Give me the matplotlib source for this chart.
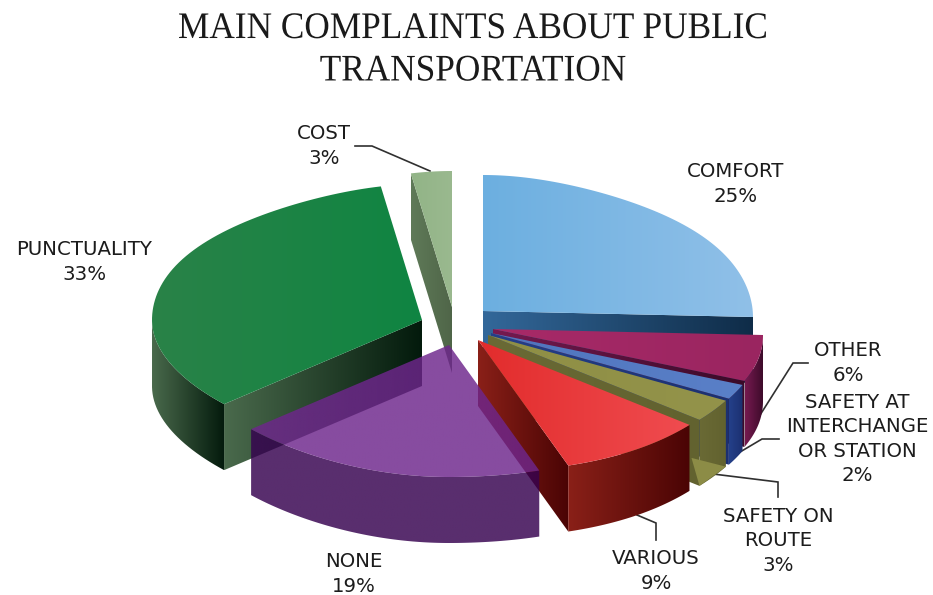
import numpy as np
import matplotlib
matplotlib.use("Agg")
import matplotlib.pyplot as plt
from matplotlib.patches import Polygon
from matplotlib.patheffects import AbstractPathEffect
from matplotlib.transforms import Affine2D

# Survey results, clockwise from twelve o'clock
categories = ["COMFORT", "OTHER", "SAFETY AT\nINTERCHANGE\nOR STATION", "SAFETY ON\nROUTE",
              "VARIOUS", "NONE", "PUNCTUALITY", "COST"]
shares = [25, 6, 2, 3, 9, 19, 33, 3]
title = "MAIN COMPLAINTS ABOUT PUBLIC\nTRANSPORTATION"

# Pie layout in figure pixels: exploded hub of each slice
hub_x = [483, 493, 491, 488, 478, 449, 422, 452]
hub_y = [311, 329, 333, 335, 340, 345, 320, 307]
RX, RY_BACK, RY_FRONT, DEPTH = 270, 136, 132, 66

# Colours per slice: top face (left, right), side wall (left, right)
top_colors = [("#6cafe0", "#90c0e8"), ("#a82a68", "#9a2560"), ("#4f74bd", "#5a80c8"),
              ("#8f8f45", "#93934a"), ("#e22c2c", "#f04c50"), ("#6e268c", "#6e268c"),
              ("#2a8248", "#0f8542"), ("#92b487", "#9ab98f")]
wall_colors = [("#33689a", "#0f2c48"), ("#761a50", "#3a0a28"), ("#24408a", "#1c3070"),
               ("#6a6a35", "#62622f"), ("#8a2018", "#4a0404"), ("#360250", "#360250"),
               ("#4a6a4c", "#031a0c"), ("#5f7a58", "#4f6548")]
FRONT_ALPHA = 0.83
ROUTE_GLINT = "#8c8c46"

# Label placement and leader lines
label_pos = [(736, 184), (848, 363), (857, 439), (778, 541), (656, 571), (354, 574), (84, 262), (324, 146)]
leaders = {
    1: [(808, 363), (793, 363), (755, 423)],
    2: [(779, 439), (762, 439), (735, 455)],
    3: [(778, 497), (778, 482), (713, 474)],
    4: [(637, 515), (656, 523), (656, 540)],
    7: [(355, 146), (372, 146), (430, 171)],
}


class Condense(AbstractPathEffect):
    """Draw glyph outlines narrower about a vertical axis given in device pixels."""

    def __init__(self, axis_x, factor):
        super().__init__()
        self.axis_x, self.factor = axis_x, factor

    def draw_path(self, renderer, gc, tpath, affine, rgbFace=None):
        squeeze = Affine2D().translate(-self.axis_x, 0).scale(self.factor, 1).translate(self.axis_x, 0)
        renderer.draw_path(gc, tpath, affine + squeeze, rgbFace)


def rim(i, theta):
    """Screen position of the slice rim; theta in radians, clockwise from the top."""
    s, c = np.sin(theta), np.cos(theta)
    # Perspective: narrower behind the hub, wider in front, drawn in at lower left
    widen = 1 - 0.2 * np.clip(c, 0, 1) ** 4 + 0.1 * np.clip(-c, 0, 1) ** 4
    widen = np.where((s < 0) & (c < 0), 1 - 0.12 * c ** 2, widen)
    ry = np.where(c > 0, RY_BACK, RY_FRONT)
    return hub_x[i] + RX * s * widen, hub_y[i] - ry * c + 6 * np.clip(s, 0, 1) ** 8


def shade(ax, verts, colors, z, alpha=1.0):
    """Fill a polygon with a left-to-right colour ramp."""
    verts = np.asarray(verts)
    left, right = (np.array(matplotlib.colors.to_rgb(col)) for col in colors)
    ramp = np.linspace(0, 1, 256)[None, :, None]
    img = left + (right - left) * ramp
    x0, x1 = verts[:, 0].min(), verts[:, 0].max()
    y0, y1 = verts[:, 1].min(), verts[:, 1].max()
    im = ax.imshow(img, extent=(x0, x1, y1, y0), aspect="auto", zorder=z, alpha=alpha,
                   interpolation="bilinear")
    patch = Polygon(verts, closed=True, transform=ax.transData, fc="none", ec="none")
    ax.add_patch(patch)
    im.set_clip_path(patch)


fig = plt.figure(figsize=(9.33, 5.95), dpi=100, facecolor="white")
ax = fig.add_axes([0, 0, 1, 1])
ax.axis("off")

edges = np.radians(np.concatenate([[0], np.cumsum(shares)]) * 3.6)
draw_order = [0, 7, 6, 1, 2, 3, 4, 5]

for z, i in enumerate(draw_order):
    base = 2 + z * 3
    alpha = FRONT_ALPHA if categories[i] == "NONE" else 1.0
    t0, t1 = edges[i], edges[i + 1]
    arc_t = np.linspace(t0, t1, 80)
    ax_x, ax_y = rim(i, arc_t)
    hub = np.array([hub_x[i], hub_y[i]], dtype=float)
    down = np.array([0, DEPTH])

    # Radial walls, only where their outward side faces the viewer
    for t, visible in ((t0, np.sin(t0) < -1e-6), (t1, np.sin(t1) > 1e-6)):
        if visible:
            corner = np.array(rim(i, np.array(t)), dtype=float)
            shade(ax, [hub, corner, corner + down, hub + down], wall_colors[i], base, alpha)

    # Curved outer wall on the front half of the rim
    front = np.cos(arc_t) < 0
    if front.any():
        fx, fy = ax_x[front], ax_y[front]
        wall = np.column_stack([np.r_[fx, fx[::-1]], np.r_[fy, fy[::-1] + DEPTH]])
        shade(ax, wall, wall_colors[i], base + 1, alpha)

    # Reflected light low on the route slice's wall
    if categories[i].startswith("SAFETY ON"):
        a = np.array(rim(i, np.array(t1)), dtype=float) + down
        b = np.array(rim(i, np.array(t0)), dtype=float) + down
        ax.add_patch(Polygon([a, b, a + (-8, -28)], closed=True, fc=ROUTE_GLINT, ec="none", zorder=base + 1.5))

    # Top face
    top = np.column_stack([np.r_[hub[0], ax_x], np.r_[hub[1], ax_y]])
    shade(ax, top, top_colors[i], base + 2, alpha)

for i, pts in leaders.items():
    xs, ys = zip(*pts)
    ax.plot(xs, ys, color="#303030", lw=1.2, zorder=1, solid_joinstyle="miter")

for i, (x, y) in enumerate(label_pos):
    ax.text(x, y, f"{categories[i]}\n{shares[i]}%", ha="center", va="center", fontsize=14.2,
            family="DejaVu Sans", color="#1c1c1c", linespacing=1.36, zorder=50)

ax.text(473, 50, title, ha="center", va="center", fontsize=27, family="Liberation Serif",
        color="#1a1a1a", linespacing=1.3, zorder=50,
        path_effects=[Condense(473, 0.94)])

ax.set_xlim(0, 933)
ax.set_ylim(595, 0)
fig.savefig("out.png", dpi=100, facecolor="white")
